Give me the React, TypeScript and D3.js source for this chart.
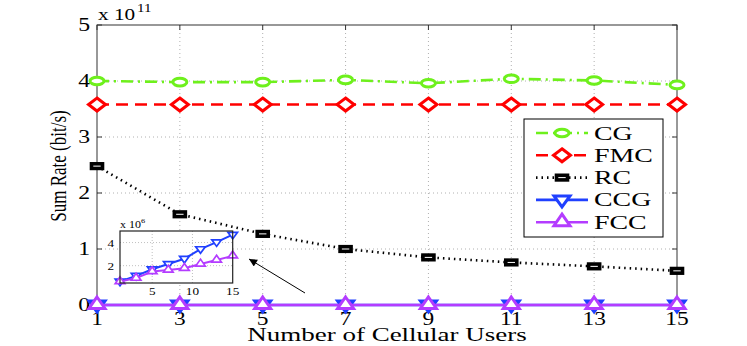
import React, { useRef, useEffect } from "react";
import * as d3 from "d3";

// number of cellular users
const users = [1, 3, 5, 7, 9, 11, 13, 15];
// sum rate, bit/s
const cgRate = [4.0e11, 3.98e11, 3.98e11, 4.02e11, 3.96e11, 4.04e11, 4.01e11, 3.93e11];
const fmcRate = [3.58e11, 3.58e11, 3.58e11, 3.58e11, 3.58e11, 3.58e11, 3.58e11, 3.58e11];
const rcRate = [2.48e11, 1.62e11, 1.27e11, 1.0e11, 0.85e11, 0.76e11, 0.69e11, 0.61e11];
const ccgRate = [0.63e6, 1.12e6, 1.69e6, 2.15e6, 2.6e6, 3.43e6, 4.03e6, 4.68e6];
const fccRate = [0.63e6, 0.92e6, 1.49e6, 1.63e6, 1.78e6, 2.15e6, 2.49e6, 2.85e6];

const yTicks = [0, 1, 2, 3, 4, 5];
const insetXTicks = [5, 10, 15];
const insetYTicks = [2, 4];
const legendNames = ["CG", "FMC", "RC", "CCG", "FCC"];

const GREEN = "#6ef01c";
const RED = "#ff0000";
const BLUE = "#2040ff";
const PURPLE = "#b43cff";

type Mk = "circle" | "diamond" | "square" | "down" | "up";

function drawMarker(g: any, type: Mk, x: number, y: number, color: string, k = 1, sw = 3) {
  const m = g.append("g").attr("transform", `translate(${x},${y}) scale(${k})`);
  const common = (s: any) => s.attr("fill", "#fff").attr("stroke", color).attr("stroke-width", sw / k);
  if (type === "circle") common(m.append("ellipse").attr("rx", 7).attr("ry", 3.8));
  if (type === "diamond") common(m.append("path").attr("d", "M0,-6.5L8.5,0L0,6.5L-8.5,0Z"));
  if (type === "square") common(m.append("rect").attr("x", -5.5).attr("y", -2.3).attr("width", 11).attr("height", 4.6))
    .attr("stroke-width", 3.6 / k);
  if (type === "down") common(m.append("path").attr("d", "M-8,-4L8,-4L0,7Z"));
  if (type === "up") common(m.append("path").attr("d", "M0,-8L8,3.5L-8,3.5Z"));
}

function stretchedText(g: any, x: number, y: number, txt: string, size: number, sx: number, anchor = "start") {
  return g.append("text")
    .attr("transform", `translate(${x},${y}) scale(${sx},1)`)
    .attr("text-anchor", anchor)
    .attr("font-family", "Liberation Serif, serif")
    .attr("font-size", size)
    .attr("fill", "#000")
    .text(txt);
}

export default function App() {
  const svgRef = useRef<SVGSVGElement>(null);

  useEffect(() => {
    if (!svgRef.current) return;
    const svg = d3.select(svgRef.current);
    svg.selectAll("*").remove();

    const x = d3.scaleLinear().domain([1, 15]).range([97, 677]);
    const y = d3.scaleLinear().domain([0, 5]).range([305, 25]);
    const yv = (v: number) => y(v / 1e11);

    // grid
    const grid = svg.append("g").attr("stroke", "#b0b0b0").attr("stroke-width", 1).attr("stroke-dasharray", "1,3");
    users.slice(1, -1).forEach((u) => grid.append("line").attr("x1", x(u)).attr("x2", x(u)).attr("y1", 25).attr("y2", 305));
    yTicks.slice(1, -1).forEach((t) => grid.append("line").attr("x1", 97).attr("x2", 677).attr("y1", y(t)).attr("y2", y(t)));

    // frame
    const ax = svg.append("g").attr("stroke", "#333").attr("stroke-width", 1).attr("fill", "none");
    ax.append("rect").attr("x", 97).attr("y", 25).attr("width", 580).attr("height", 280);
    yTicks.forEach((t) => {
      ax.append("line").attr("x1", 97).attr("x2", 102).attr("y1", y(t)).attr("y2", y(t));
      ax.append("line").attr("x1", 672).attr("x2", 677).attr("y1", y(t)).attr("y2", y(t));
    });
    users.forEach((u) => ax.append("line").attr("x1", x(u)).attr("x2", x(u)).attr("y1", 25).attr("y2", 30));

    // tick labels
    yTicks.forEach((t) => stretchedText(svg, 90, y(t) + 6, String(t), 19, 1.25, "end"));
    users.forEach((u) => stretchedText(svg, x(u), 325, String(u), 18, 1.3, "middle"));
    stretchedText(svg, 98, 20, "x 10", 17, 1.25);
    stretchedText(svg, 137, 12, "11", 12, 1.25);

    // axis titles
    stretchedText(svg, 387, 341, "Number of Cellular Users", 18, 1.5, "middle");
    svg.append("text")
      .attr("transform", "translate(66,166) rotate(-90) scale(1,1.4)")
      .attr("text-anchor", "middle")
      .attr("font-family", "Liberation Serif, serif")
      .attr("font-size", 17)
      .text("Sum Rate (bit/s)");

    const series = [
      { vals: cgRate, color: GREEN, dash: "12,5,2,5", mk: "circle" as Mk },
      { vals: fmcRate, color: RED, dash: "12,7", mk: "diamond" as Mk },
      { vals: rcRate, color: "#000", dash: "1.5,4", mk: "square" as Mk },
      { vals: ccgRate, color: BLUE, dash: null, mk: "down" as Mk },
      { vals: fccRate, color: PURPLE, dash: null, mk: "up" as Mk },
    ];

    const line = d3.line<number>().x((_, i) => x(users[i])).y((v) => yv(v));
    series.forEach((s) => {
      svg.append("path").attr("d", line(s.vals)).attr("fill", "none").attr("stroke", s.color)
        .attr("stroke-width", 2.6).attr("stroke-dasharray", s.dash);
      s.vals.forEach((v, i) => drawMarker(svg, s.mk, x(users[i]), yv(v), s.color));
    });

    // inset
    const ix = d3.scaleLinear().domain([1, 15]).range([120, 232.7]);
    const iy = d3.scaleLinear().domain([0.5, 5]).range([283, 231]);
    const ins = svg.append("g");
    ins.append("rect").attr("x", 120).attr("y", 231).attr("width", 112.7).attr("height", 52).attr("fill", "#fff");
    const ig = ins.append("g").attr("stroke", "#b0b0b0").attr("stroke-width", 0.8).attr("stroke-dasharray", "1,2");
    insetXTicks.slice(0, -1).forEach((t) => ig.append("line").attr("x1", ix(t)).attr("x2", ix(t)).attr("y1", 231).attr("y2", 283));
    insetYTicks.forEach((t) => ig.append("line").attr("x1", 120).attr("x2", 232.7).attr("y1", iy(t)).attr("y2", iy(t)));
    insetXTicks.forEach((t) => stretchedText(ins, ix(t), 295, String(t), 11, 1.2, "middle"));
    insetYTicks.forEach((t) => stretchedText(ins, 114, iy(t) + 4, String(t), 11, 1.2, "end"));
    stretchedText(ins, 120, 228, "x 10", 10, 1.2);
    stretchedText(ins, 141, 223, "6", 7, 1.2);
    const iline = d3.line<number>().x((_, i) => ix(users[i])).y((v) => iy(v / 1e6));
    [series[3], series[4]].forEach((s) => {
      ins.append("path").attr("d", iline(s.vals)).attr("fill", "none").attr("stroke", s.color).attr("stroke-width", 2);
      s.vals.forEach((v, i) => drawMarker(ins, s.mk, ix(users[i]), iy(v / 1e6), s.color, 0.6, 1.7));
    });
    ins.append("rect").attr("x", 120).attr("y", 231).attr("width", 112.7).attr("height", 52)
      .attr("fill", "none").attr("stroke", "#222").attr("stroke-width", 1.2);

    // arrow
    svg.append("defs").append("marker").attr("id", "ah").attr("viewBox", "0 0 10 10")
      .attr("refX", 10).attr("refY", 5).attr("markerWidth", 11).attr("markerHeight", 8)
      .attr("markerUnits", "userSpaceOnUse").attr("orient", "auto")
      .append("path").attr("d", "M0,0L10,5L0,10Z").attr("fill", "#000");
    svg.append("line").attr("x1", 305).attr("y1", 293).attr("x2", 249).attr("y2", 259)
      .attr("stroke", "#000").attr("stroke-width", 1).attr("marker-end", "url(#ah)");

    // legend
    const lg = svg.append("g");
    lg.append("rect").attr("x", 524).attr("y", 119).attr("width", 139).attr("height", 118)
      .attr("fill", "#fff").attr("stroke", "#000").attr("stroke-width", 1);
    series.forEach((s, i) => {
      const ly = 133 + i * 22.3;
      lg.append("line").attr("x1", 536).attr("x2", 588).attr("y1", ly).attr("y2", ly)
        .attr("stroke", s.color).attr("stroke-width", 2.6).attr("stroke-dasharray", s.dash);
      drawMarker(lg, s.mk, 562, ly, s.color);
      stretchedText(lg, 594, ly + 6.5, legendNames[i], 18, 1.55);
    });
  }, []);

  return (
    <div style={{ width: 747, height: 346 }}>
      <svg ref={svgRef} width={747} height={346} style={{ position: "absolute", left: 0, top: 0, background: "#fff" }} />
    </div>
  );
}
